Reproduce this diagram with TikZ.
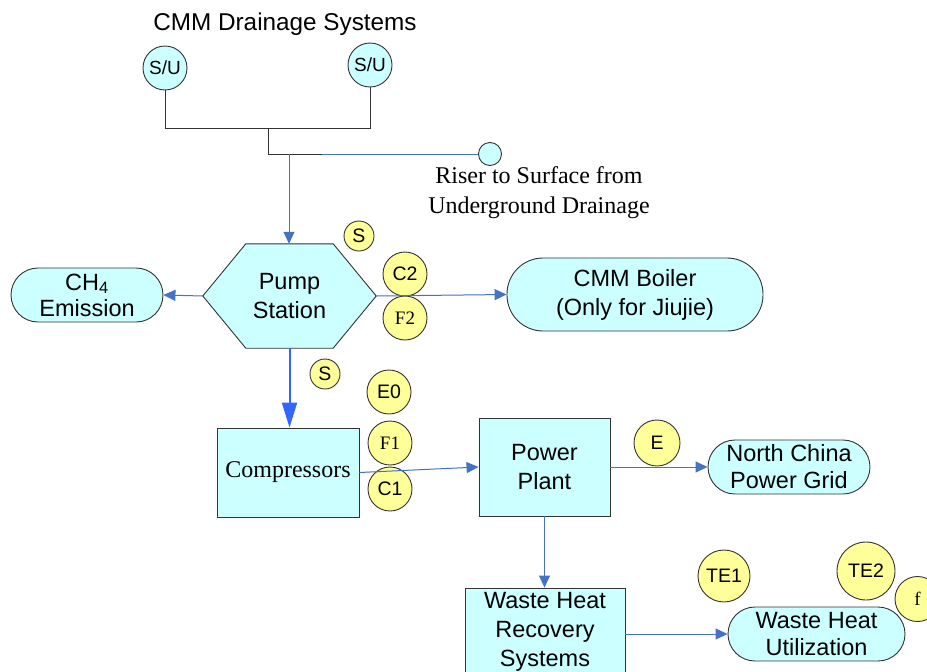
\documentclass[tikz,border=0pt]{standalone}
\usepackage{fontspec}
\setmainfont{Liberation Sans}
\newfontfamily\tnr{Liberation Serif}
\usetikzlibrary{arrows.meta,backgrounds}
\definecolor{cfill}{HTML}{CCFFFF}
\definecolor{yfill}{HTML}{FFFF99}
\definecolor{ablue}{HTML}{4472C4}
\definecolor{tblue}{HTML}{3366FF}
\definecolor{edgec}{HTML}{333333}
\begin{document}
\begin{tikzpicture}[x=1pt,y=-1pt,
  bigtxt/.style={font=\fontsize{23.5}{29}\selectfont},
  box/.style={draw=edgec, line width=0.9pt, fill=cfill, align=center, inner sep=0pt},
  stad/.style={box, rounded corners=#1},
  stad/.default=27pt,
  tag/.style={circle, draw=edgec, line width=0.9pt, fill=yfill, inner sep=0pt, font=\fontsize{19.5}{19.5}\selectfont},
  stag/.style={tag, font=\tnr\fontsize{19}{19}\selectfont},
  flow/.style={draw=ablue, line width=1pt, -{Triangle[length=12pt,width=11pt]}},
  pipe/.style={draw=black!80, line width=1pt},
]
\useasboundingbox (0,0) rectangle (927,672);

% title and drainage
\node[font=\fontsize{24.3}{28}\selectfont] (title) at (285,24) {CMM Drainage Systems};
\node[tag, fill=cfill, minimum size=44pt, font=\fontsize{19}{19}\selectfont] (su1) at (165,68) {S/U};
\node[tag, fill=cfill, minimum size=44pt, font=\fontsize{19}{19}\selectfont] (su2) at (370,65) {S/U};
\node[circle, draw=edgec, fill=cfill, line width=0.9pt, minimum size=23pt, inner sep=0pt] (riser) at (490,154) {};
\node[font=\tnr\fontsize{24}{30}\selectfont, align=center] (risertxt) at (539,193) {Riser to Surface from\\Underground Drainage};

\coordinate (jt) at (268,128);
\coordinate (jb) at (268,154);
\coordinate (jm) at (322,154);
\coordinate (jd) at (289,154);

% main nodes
\node[bigtxt, minimum width=173pt, minimum height=104pt, inner sep=0pt, align=center] (pump) at (289.5,296) {Pump\\Station};
\node[stad, bigtxt, minimum width=152pt, minimum height=54pt] (ch4) at (87,295) {CH\textsubscript{4}\\[-3pt]Emission};
\node[stad=36pt, bigtxt, minimum width=256pt, minimum height=73pt] (boiler) at (635,294.5) {CMM Boiler\\(Only for Jiujie)};
\node[box, font=\tnr\fontsize{24}{28}\selectfont, minimum width=142pt, minimum height=89pt] (comp) at (288,472.5) {\raisebox{-2pt}{Compressors}};
\node[box, bigtxt, minimum width=131pt, minimum height=98pt] (pp) at (544.5,467) {Power\\Plant};
\node[stad, bigtxt, minimum width=162pt, minimum height=54pt] (grid) at (789,467) {North China\\[-2pt]Power Grid};
\node[box, bigtxt, minimum width=160pt, minimum height=88pt] (whrs) at (545,632) {Waste Heat\\Recovery\\Systems};
\node[stad, bigtxt, minimum width=177pt, minimum height=54pt] (whu) at (816.5,634) {Waste Heat\\[-2pt]Utilization};

% tags
\node[tag, minimum size=30pt] (s1) at (359,236) {S};
\node[tag, minimum size=44pt] (c2) at (405,274) {C2};
\node[stag, minimum size=44pt] (f2) at (405,318) {F2};
\node[tag, minimum size=30pt] (s2) at (325,374) {S};
\node[tag, minimum size=44pt] (e0) at (389,392) {E0};
\node[stag, minimum size=44pt] (f1) at (390,443) {F1};
\node[tag, minimum size=44pt] (c1) at (390,489) {C1};
\node[tag, minimum size=46pt] (e) at (657,443) {E};
\node[tag, minimum size=52pt] (te1) at (724,576) {TE1};
\node[tag, minimum size=58pt] (te2) at (866,571) {TE2};
\node[stag, minimum size=45pt] (f) at (917.5,599) {f};

\begin{scope}[on background layer]
\fill[white] (0,0) rectangle (927,672);
\draw[box] (pump.west) -- ([xshift=43pt]pump.north west) -- ([xshift=-43pt]pump.north east) -- (pump.east) -- ([xshift=-43pt]pump.south east) -- ([xshift=43pt]pump.south west) -- cycle;
\end{scope}

% connectors
\draw[pipe] (su1.south) |- (su2.south |- jt) -- (su2.south);
\draw[pipe] (jt) -- (jb) -- (jm);
\draw[draw=ablue, line width=1pt] (jm) -- (riser.west);
\draw[flow] (jd) -- (jd |- pump.north);
\draw[flow] (pump.west) -- (ch4.east);
\draw[flow] (pump.east) -- (boiler.west);
\draw[draw=tblue, line width=2pt, -{Triangle[length=25pt,width=15pt]}] (pump.south) -- (pump.south |- comp.north);
\draw[flow] (comp.east) -- (pp.west);
\draw[flow] (pp.east) -- (grid.west);
\draw[flow] (pp.south) -- (pp.south |- whrs.north);
\draw[flow] (whrs.east |- whu.west) -- (whu.west);
\end{tikzpicture}
\end{document}
